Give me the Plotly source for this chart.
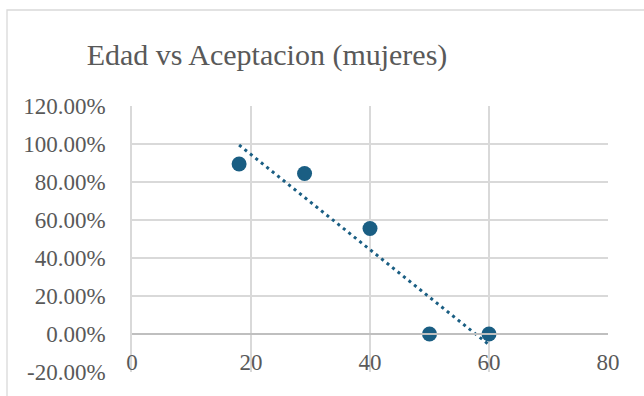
import numpy as np
import plotly.graph_objects as go

edad = [18, 29, 40, 50, 60]
aceptacion = [0.895, 0.845, 0.555, 0.0, 0.0]
titulo = "Edad vs Aceptacion (mujeres)"
x_ticks = [0, 20, 40, 60, 80]
y_ticks = [-0.2, 0.0, 0.2, 0.4, 0.6, 0.8, 1.0, 1.2]
y_tick_labels = ["-20.00%", "0.00%", "20.00%", "40.00%", "60.00%",
                 "80.00%", "100.00%", "120.00%"]

color = "#1a5e83"
font_fam = "Liberation Serif, Times New Roman, serif"

m, b = np.polyfit(edad, aceptacion, 1)
tx = [min(edad), max(edad)]
ty = [m * v + b for v in tx]

fig = go.Figure()
fig.add_trace(go.Scatter(x=tx, y=ty, mode="lines",
                         line=dict(color=color, width=3, dash="3px,4px"),
                         hoverinfo="skip", showlegend=False))
fig.add_trace(go.Scatter(x=edad, y=aceptacion, mode="markers",
                         marker=dict(color=color, size=15),
                         showlegend=False))

W, H = 644, 396
l, r, t, bm = 132, 36, 106, 24
pw, ph = W - l - r, H - t - bm

fig.update_layout(
    width=W, height=H,
    margin=dict(l=l, r=r, t=t, b=bm, autoexpand=False),
    paper_bgcolor="white", plot_bgcolor="white",
    font=dict(family=font_fam, color="#595959", size=23),
    title=dict(text=titulo, x=267 / W, xref="container", xanchor="center",
               y=1 - 54 / H, yref="container", yanchor="middle",
               font=dict(family=font_fam, size=30, color="#595959")),
    xaxis=dict(range=[0, 80], tickvals=x_ticks, showgrid=True, gridcolor="#d9d9d9",
               gridwidth=1.5, zeroline=False, showline=True, linecolor="#bfbfbf",
               linewidth=1.5, anchor="free", position=(0 + 0.2) / 1.4,
               ticks="", ticklabelstandoff=8, automargin=False),
    yaxis=dict(range=[-0.2, 1.2], tickvals=y_ticks, ticktext=y_tick_labels,
               showgrid=True, gridcolor="#d9d9d9", gridwidth=1.5, zeroline=False,
               showline=True, linecolor="#d9d9d9", linewidth=1.5,
               ticks="", ticklabelstandoff=20, automargin=False),
    shapes=[dict(type="rect", xref="paper", yref="paper",
                 x0=(7 - l) / pw, x1=(W + 10 - l) / pw,
                 y0=(H - bm - (H + 10)) / ph, y1=(H - bm - 10) / ph,
                 line=dict(color="#d9d9d9", width=1.3), layer="below")],
)

fig.write_html("out.html", config={"displayModeBar": False},
               post_script="document.body.style.margin='0';")
